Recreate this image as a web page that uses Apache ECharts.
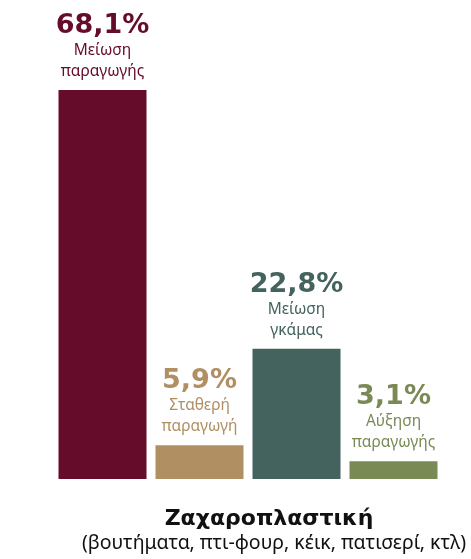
<!DOCTYPE html>
<html>
<head>
<meta charset="utf-8">
<script src="https://cdn.jsdelivr.net/npm/echarts@6/dist/echarts.min.js"></script>
<style>
  html, body { margin: 0; padding: 0; background: #ffffff; }
  #chart { width: 471px; height: 559px; }
</style>
</head>
<body>
<div id="chart"></div>
<script>
// Production change categories for confectionery businesses
const categories = ['Μείωση\nπαραγωγής', 'Σταθερή\nπαραγωγή', 'Μείωση\nγκάμας', 'Αύξηση\nπαραγωγής'];
const values = [68.1, 5.9, 22.8, 3.1];
const colors = ['#640c2a', '#b08f63', '#44635e', '#7a8a55'];
const title = 'Ζαχαροπλαστική';
const subtitle = '(βουτήματα, πτι-φουρ, κέικ, πατισερί, κτλ)';

const fmt = v => v.toFixed(1).replace('.', ',') + '%';

const chart = echarts.init(document.getElementById('chart'), null, { renderer: 'canvas' });
chart.setOption({
  animation: false,
  title: [{
    text: title,
    left: 264,
    textAlign: 'center',
    top: 503,
    textStyle: { fontFamily: 'DejaVu Sans', fontWeight: 'bold', fontSize: 22, color: '#111111' }
  }, {
    text: subtitle,
    left: 269,
    textAlign: 'center',
    top: 528,
    textStyle: { fontFamily: 'Noto Sans', fontWeight: 'normal', fontSize: 19.5, color: '#111111' }
  }],
  grid: { left: 54, right: 29, top: 90, bottom: 80, containLabel: false },
  xAxis: {
    type: 'category',
    data: categories,
    axisLine: { show: false },
    axisTick: { show: false },
    axisLabel: { show: false }
  },
  yAxis: {
    type: 'value',
    min: 0,
    max: 68.1,
    show: false,
    splitLine: { show: false }
  },
  series: [{
    type: 'bar',
    barWidth: 88,
    data: values.map((v, i) => ({
      value: v,
      itemStyle: { color: colors[i] },
      label: {
        color: colors[i],
        formatter: () => '{p|' + fmt(v) + '}\n{s|' + categories[i].split('\n')[0] + '}\n{s|' + categories[i].split('\n')[1] + '}'
      }
    })),
    label: {
      show: true,
      position: 'top',
      distance: 8,
      align: 'center',
      rich: {
        p: { fontFamily: 'DejaVu Sans', fontWeight: 'bold', fontSize: 27, lineHeight: 28 },
        s: { fontFamily: 'Noto Sans', fontSize: 15.5, lineHeight: 21 }
      }
    }
  }]
});
</script>
</body>
</html>
